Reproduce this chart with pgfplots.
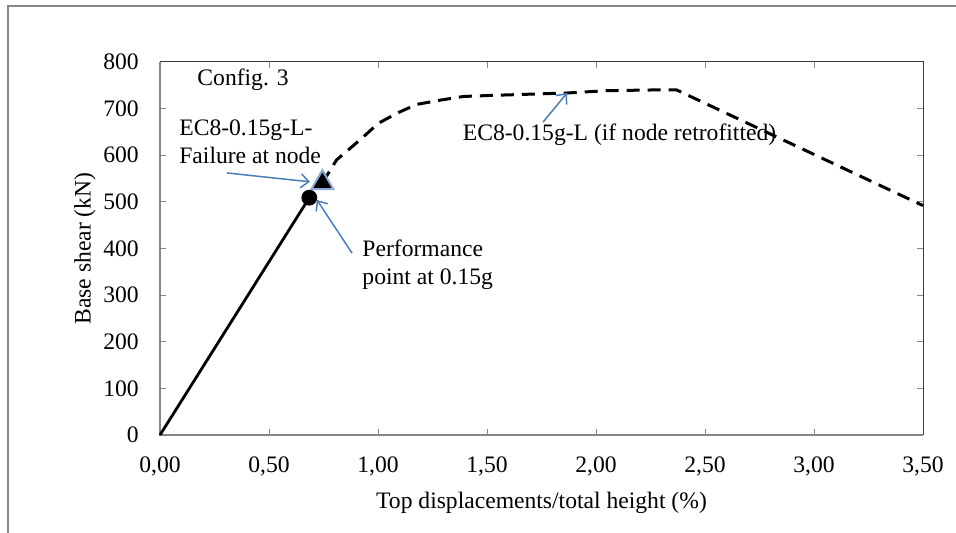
\documentclass[border=0pt]{standalone}
\usepackage{fontspec}
\setmainfont{Liberation Serif}
\usepackage{pgfplots}
\pgfplotsset{compat=1.18}
\usetikzlibrary{arrows.meta}
\definecolor{axgrey}{RGB}{134,134,134}
\definecolor{boxgrey}{RGB}{60,60,60}
\definecolor{arrowblue}{RGB}{74,126,187}
\definecolor{glow}{RGB}{140,172,215}
\begin{document}
\fontsize{11.8}{13.8}\selectfont
\begin{tikzpicture}
\useasboundingbox (0,0) rectangle (478pt,266.5pt);
\draw[axgrey, line width=0.75pt] (4pt,0) -- (4pt,263.5pt) -- (478pt,263.5pt);
\begin{axis}[
  at={(80pt,49pt)}, anchor=south west,
  scale only axis, width=381.5pt, height=186.5pt,
  xmin=0, xmax=3.5, ymin=0, ymax=800,
  xtick={0,0.5,1,1.5,2,2.5,3,3.5},
  ytick={0,100,200,300,400,500,600,700,800},
  tick align=inside, major tick length=3pt,
  tick style={axgrey, line width=0.5pt},
  axis line style={boxgrey, line width=0.5pt},
  xticklabel style={/pgf/number format/.cd, fixed, fixed zerofill, precision=2, use comma, assume math mode=true, /tikz/.cd, yshift=-7pt},
  yticklabel style={/pgf/number format/.cd, fixed, assume math mode=true, /tikz/.cd, xshift=-6.5pt},
  xlabel={Top displacements/total height (\%)},
  ylabel={Base shear (kN)},
  xlabel style={at={(axis description cs:0.5,-0.1823)}, anchor=center},
  ylabel style={at={(axis description cs:-0.0983,0.5)}, anchor=center},
  clip=false,
]
\draw[axgrey, line width=0.6pt] (rel axis cs:0,1) -- (rel axis cs:0,0) -- (rel axis cs:1,0);
% elastic branch (solid)
\addplot[black, line width=1.4pt] coordinates {(0,0) (0.685,509)};
% retrofitted branch (dashed)
\addplot[black, line width=1.5pt, dash pattern=on 6.5pt off 4pt] coordinates {
 (0.745,541) (0.81,590) (0.925,636) (1.0,668) (1.086,690) (1.177,709)
 (1.284,718) (1.391,726) (1.5,728) (1.867,733.5) (2.05,738.5) (2.26,740) (2.37,740)
 (3.5,492)};
% markers
\addplot[only marks, mark=*, mark size=3.75pt, black] coordinates {(0.685,509)};
\addplot[only marks, mark=triangle*, mark size=6.3pt, mark options={fill=black, draw=glow, line width=1pt}] coordinates {(0.745,541)};
% arrows
\draw[arrowblue, line width=0.75pt, -{Straight Barb[length=4pt,width=7pt]}] (axis cs:0.307,562) -- (axis cs:0.688,543);
\draw[arrowblue, line width=0.75pt, -{Straight Barb[length=4pt,width=7pt]}] (axis cs:0.881,390) -- (axis cs:0.720,504);
\draw[arrowblue, line width=0.75pt, -{Straight Barb[length=4pt,width=7pt]}] (axis cs:1.757,671) -- (axis cs:1.867,733.5);
% labels
\node[anchor=west, inner sep=0pt] at (axis cs:0.170,761) {Config. 3};
\node[anchor=west, align=left, inner sep=0pt] at (axis cs:0.087,629.5) {EC8-0.15g-L-\\Failure at node};
\node[anchor=west, align=left, inner sep=0pt] at (axis cs:0.927,365.7) {Performance\\point at 0.15g};
\node[anchor=center, inner sep=0pt] at (axis cs:2.108,643.4) {EC8-0.15g-L (if node retrofitted)};
\end{axis}
\end{tikzpicture}
\end{document}
